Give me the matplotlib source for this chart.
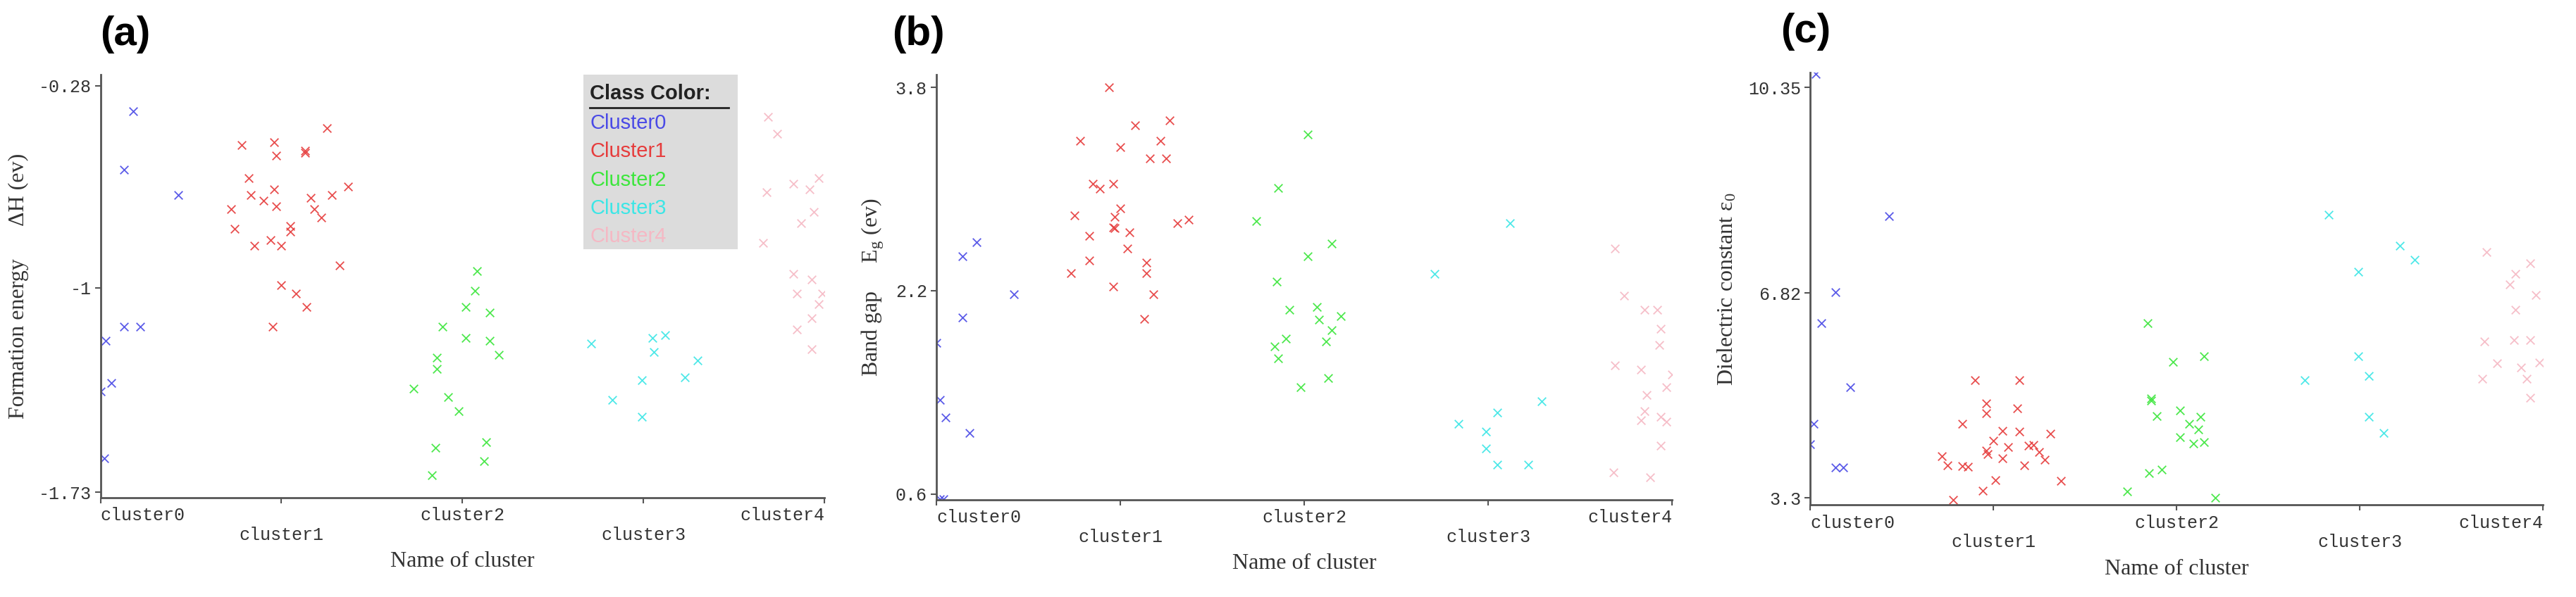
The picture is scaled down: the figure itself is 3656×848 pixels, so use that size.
import matplotlib.pyplot as plt

# === DATOS ===
cluster_names = ["cluster0", "cluster1", "cluster2", "cluster3", "cluster4"]
legend_names = ["Cluster0", "Cluster1", "Cluster2", "Cluster3", "Cluster4"]
colors = ["#4a4ae6", "#e63c3c", "#3ce63c", "#3ce6e6", "#f5b8c4"]

# (a) formation energy, x = jittered cluster position
a0_x = [0.18, 0.13, 0.43, 0.13, 0.22, 0.03, 0.06, 0.00, 0.02]
a0_y = [-0.37, -0.58, -0.67, -1.14, -1.14, -1.19, -1.34, -1.37, -1.61]
a1_x = [1.25, 0.78, 0.96, 0.97, 1.13, 1.13, 0.82, 0.83, 0.90, 0.96, 0.97, 0.72, 1.16, 1.28,
        1.37, 1.18, 1.22, 0.74, 1.05, 1.05, 0.85, 0.94, 1.00, 1.32, 1.00, 1.08, 1.14, 0.95]
a1_y = [-0.43, -0.49, -0.48, -0.53, -0.51, -0.52, -0.61, -0.67, -0.69, -0.65, -0.71, -0.72, -0.68, -0.67,
        -0.64, -0.72, -0.75, -0.79, -0.78, -0.80, -0.85, -0.83, -0.85, -0.92, -0.99, -1.02, -1.07, -1.14]
a2_x = [2.08, 2.07, 2.02, 2.15, 1.89, 2.02, 2.15, 2.20, 1.86, 1.86, 1.73, 1.92, 1.98, 1.85, 2.13, 2.12, 1.83]
a2_y = [-0.94, -1.01, -1.07, -1.09, -1.14, -1.18, -1.19, -1.24, -1.25, -1.29, -1.36, -1.39, -1.44, -1.57,
        -1.55, -1.62, -1.67]
a3_x = [2.71, 3.05, 3.12, 3.06, 3.30, 2.99, 3.23, 2.83, 2.99]
a3_y = [-1.20, -1.18, -1.17, -1.23, -1.26, -1.33, -1.32, -1.40, -1.46]
a4_x = [3.69, 3.74, 3.83, 3.92, 3.97, 3.68, 3.94, 3.87, 3.66, 3.83, 3.93, 3.85, 3.99, 3.97, 3.93, 3.85, 3.93]
a4_y = [-0.39, -0.45, -0.63, -0.65, -0.61, -0.66, -0.73, -0.77, -0.84, -0.95, -0.97, -1.02, -1.02, -1.06,
        -1.11, -1.15, -1.22]

# (b) band gap
b0_x = [0.22, 0.14, 0.42, 0.14, 0.00, 0.02, 0.05, 0.18, 0.02, 0.04]
b0_y = [2.58, 2.47, 2.17, 1.99, 1.79, 1.34, 1.20, 1.08, 0.56, 0.56]
b1_x = [0.94, 1.27, 1.08, 0.78, 1.00, 1.22, 1.16, 1.25, 0.85, 0.89, 0.96, 1.00, 0.75, 0.97,
        0.96, 0.97, 1.37, 1.31, 1.05, 0.83, 1.04, 0.83, 1.14, 0.73, 1.14, 0.96, 1.18, 1.13]
b1_y = [3.80, 3.54, 3.50, 3.38, 3.33, 3.38, 3.24, 3.24, 3.04, 3.00, 3.04, 2.85, 2.79, 2.78,
        2.70, 2.69, 2.76, 2.73, 2.66, 2.63, 2.53, 2.44, 2.42, 2.34, 2.34, 2.23, 2.17, 1.98]
b2_x = [2.02, 1.86, 1.74, 2.15, 2.02, 1.85, 1.92, 2.07, 2.08, 2.20, 2.15, 2.12, 1.90, 1.84, 1.86, 2.13, 1.98]
b2_y = [3.43, 3.01, 2.75, 2.57, 2.47, 2.27, 2.05, 2.07, 1.97, 2.00, 1.89, 1.80, 1.82, 1.76, 1.67, 1.51, 1.44]
b3_x = [3.12, 2.71, 3.29, 3.05, 2.84, 2.99, 2.99, 3.05, 3.22]
b3_y = [2.73, 2.33, 1.33, 1.24, 1.15, 1.09, 0.96, 0.83, 0.83]
b4_x = [3.69, 3.74, 3.85, 3.92, 3.94, 3.93, 3.69, 3.83, 4.00, 3.86, 3.97, 3.85, 3.83, 3.94, 3.97, 3.94,
        3.68, 3.88]
b4_y = [2.53, 2.16, 2.05, 2.05, 1.90, 1.77, 1.61, 1.58, 1.54, 1.38, 1.44, 1.25, 1.18, 1.21, 1.17, 0.98,
        0.77, 0.73]

# (c) dielectric constant
c0_x = [0.03, 0.43, 0.14, 0.06, 0.22, 0.02, 0.00, 0.14, 0.18]
c0_y = [10.58, 8.14, 6.84, 6.30, 5.20, 4.58, 4.23, 3.82, 3.82]
c1_x = [0.90, 1.14, 0.96, 0.96, 1.13, 0.83, 1.05, 1.14, 1.31, 1.00, 1.08, 1.19, 1.22, 0.96,
        0.97, 1.25, 0.72, 1.05, 1.28, 0.75, 0.83, 0.86, 1.17, 1.01, 1.37, 0.94, 0.78]
c1_y = [5.32, 5.33, 4.92, 4.76, 4.84, 4.57, 4.45, 4.44, 4.41, 4.29, 4.18, 4.20, 4.21, 4.11,
        4.05, 4.09, 4.02, 3.98, 3.96, 3.86, 3.85, 3.84, 3.86, 3.61, 3.60, 3.43, 3.27]
c2_x = [1.84, 1.98, 2.15, 1.86, 1.86, 1.89, 2.02, 2.13, 2.07, 2.12, 2.02, 2.09, 2.15, 1.92, 1.85, 1.73, 2.21]
c2_y = [6.30, 5.64, 5.74, 5.01, 4.97, 4.71, 4.81, 4.69, 4.57, 4.48, 4.35, 4.24, 4.26, 3.79, 3.73, 3.42, 3.31]
c3_x = [2.83, 3.22, 3.30, 2.99, 2.99, 3.05, 2.70, 3.05, 3.13]
c3_y = [8.17, 7.63, 7.39, 7.19, 5.73, 5.40, 5.32, 4.69, 4.42]
c4_x = [3.69, 3.93, 3.85, 3.82, 3.96, 3.85, 3.68, 3.84, 3.93, 3.75, 3.98, 3.88, 3.67, 3.91, 3.93]
c4_y = [7.52, 7.33, 7.15, 6.97, 6.79, 6.53, 5.99, 6.01, 6.01, 5.62, 5.63, 5.54, 5.35, 5.35, 5.02]

panels = [
    ("(a)", 0.0, [(a0_x, a0_y), (a1_x, a1_y), (a2_x, a2_y), (a3_x, a3_y), (a4_x, a4_y)],
     [-0.28, -1, -1.73], ["-0.28", "-1", "-1.73"], (-1.75, -0.24),
     "Formation energy      ΔH (ev)", [0.039, 0.166, 0.281, 0.709]),
    ("(b)", -0.06, [(b0_x, b0_y), (b1_x, b1_y), (b2_x, b2_y), (b3_x, b3_y), (b4_x, b4_y)],
     [0.6, 2.2, 3.8], ["0.6", "2.2", "3.8"], (0.555, 3.9),
     "Band gap     $\\mathregular{E_g}$ (ev)", [0.3635, 0.163, 0.2856, 0.712]),
    ("(c)", -0.04, [(c0_x, c0_y), (c1_x, c1_y), (c2_x, c2_y), (c3_x, c3_y), (c4_x, c4_y)],
     [3.3, 6.82, 10.35], ["3.3", "6.82", "10.35"], (3.18, 10.6),
     "Dielectric constant $\\mathregular{\\varepsilon_0}$", [0.7027, 0.154, 0.2845, 0.724]),
]

fig = plt.figure(figsize=(36.56, 8.48), dpi=100)

for letter, lx, series, yt, ytl, ylim, ylabel, rect in panels:
    ax = fig.add_axes(rect)
    for (xs, ys), col in zip(series, colors):
        ax.scatter(xs, ys, marker="x", s=70, color=col, linewidths=1.3, alpha=0.9)
    ax.set_xlim(0, 4)
    ax.set_ylim(*ylim)
    for s in ["top", "right"]:
        ax.spines[s].set_visible(False)
    for s in ["left", "bottom"]:
        ax.spines[s].set_color("#555555")
        ax.spines[s].set_linewidth(2)
    ax.set_xticks(range(5))
    labels = [n if i % 2 == 0 else "\n" + n for i, n in enumerate(cluster_names)]
    ax.set_xticklabels(labels, family="Liberation Mono", fontsize=18, color="#333333")
    for i, t in enumerate(ax.get_xticklabels()):
        t.set_ha("left" if i == 0 else ("right" if i == 4 else "center"))
    ax.set_yticks(yt)
    ax.set_yticklabels(ytl, family="Liberation Mono", fontsize=18, color="#333333")
    ax.tick_params(direction="out", length=6, width=1.5, color="#555555")
    ax.set_xlabel("Name of cluster", family="Liberation Serif", fontsize=23, color="#333333", labelpad=8)
    ax.set_ylabel(ylabel, family="Liberation Serif", fontsize=23, color="#333333", labelpad=10)
    ax.text(lx, 1.095, letter, transform=ax.transAxes, fontsize=42, fontweight="bold",
            family="Liberation Sans", ha="left", va="center")
    if letter == "(a)":
        ax.add_patch(plt.Rectangle((0.667, 0.587), 0.213, 0.418, transform=ax.transAxes,
                                   facecolor="#dcdcdc", edgecolor="none", zorder=0))
        ax.text(0.676, 0.955, "Class Color:", transform=ax.transAxes, fontsize=21,
                fontweight="bold", family="Liberation Sans", va="center", color="#222222")
        ax.plot([0.676, 0.868], [0.922, 0.922], transform=ax.transAxes, color="#222222", lw=2)
        for i, (name, col) in enumerate(zip(legend_names, colors)):
            ax.text(0.676, 0.885 - i * 0.067, name, transform=ax.transAxes, fontsize=21,
                    family="Liberation Sans", va="center", color=col)

plt.savefig("out.png", dpi=100)
